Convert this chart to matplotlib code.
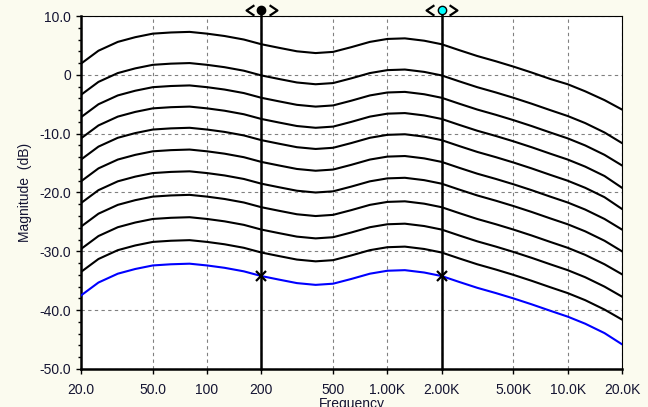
import matplotlib
matplotlib.use("Agg")
import matplotlib.pyplot as plt
from matplotlib.path import Path
from matplotlib.transforms import blended_transform_factory, offset_copy

plt.rcParams['font.family'] = ['Liberation Sans', 'DejaVu Sans']

# ---- data ----
freq = [20, 25, 32, 40, 50, 63, 80, 100, 125, 160, 200, 250, 315, 400, 500, 630,
        800, 1000, 1250, 1600, 2000, 2500, 3150, 4000, 5000, 6300, 8000, 10000,
        12500, 16000, 20000]

c1 = [1.9, 4.1, 5.6, 6.4, 7.0, 7.2, 7.3, 7.0, 6.6, 6.0, 5.2, 4.6, 4.0, 3.7, 3.9, 4.7,
      5.6, 6.1, 6.2, 5.8, 5.2, 4.2, 3.2, 2.3, 1.4, 0.4, -0.7, -1.6, -2.8, -4.3, -5.9]
c2 = [-3.4, -1.2, 0.3, 1.1, 1.7, 1.9, 2.0, 1.7, 1.3, 0.7, -0.1, -0.7, -1.3, -1.6, -1.4, -0.6,
      0.3, 0.8, 0.9, 0.5, -0.1, -1.1, -2.1, -3.0, -3.9, -4.9, -6.0, -7.0, -8.2, -9.8, -11.6]
c3 = [-7.2, -5.0, -3.5, -2.7, -2.1, -1.9, -1.8, -2.1, -2.5, -3.1, -3.9, -4.5, -5.1, -5.4, -5.2, -4.4,
      -3.5, -3.0, -2.9, -3.3, -3.9, -4.9, -5.9, -6.8, -7.7, -8.7, -9.8, -10.8, -12.0, -13.6, -15.4]
c4 = [-10.8, -8.6, -7.1, -6.3, -5.7, -5.5, -5.4, -5.7, -6.1, -6.7, -7.5, -8.1, -8.7, -9.0, -8.8, -8.0,
      -7.1, -6.6, -6.5, -6.9, -7.5, -8.5, -9.5, -10.4, -11.3, -12.3, -13.4, -14.4, -15.6, -17.2, -19.2]
c5 = [-14.4, -12.2, -10.7, -9.9, -9.3, -9.1, -9.0, -9.3, -9.7, -10.3, -11.1, -11.7, -12.3, -12.6, -12.4, -11.6,
      -10.7, -10.2, -10.1, -10.5, -11.1, -12.1, -13.1, -14.0, -14.9, -15.9, -17.0, -18.0, -19.2, -20.8, -22.8]
c6 = [-18.1, -15.9, -14.4, -13.6, -13.0, -12.8, -12.7, -13.0, -13.4, -14.0, -14.8, -15.4, -16.0, -16.3, -16.1, -15.3,
      -14.4, -13.9, -13.8, -14.2, -14.8, -15.8, -16.8, -17.7, -18.6, -19.6, -20.7, -21.7, -22.9, -24.5, -26.3]
c7 = [-21.8, -19.6, -18.1, -17.3, -16.7, -16.5, -16.4, -16.7, -17.1, -17.7, -18.5, -19.1, -19.7, -20.0, -19.8, -19.0,
      -18.1, -17.6, -17.5, -17.9, -18.5, -19.5, -20.5, -21.4, -22.3, -23.3, -24.4, -25.4, -26.6, -28.2, -30.0]
c8 = [-25.8, -23.6, -22.1, -21.3, -20.7, -20.5, -20.4, -20.7, -21.1, -21.7, -22.5, -23.1, -23.7, -24.0, -23.8, -23.0,
      -22.1, -21.6, -21.5, -21.9, -22.5, -23.5, -24.5, -25.4, -26.3, -27.3, -28.4, -29.4, -30.6, -32.2, -33.9]
c9 = [-29.6, -27.4, -25.9, -25.1, -24.5, -24.3, -24.2, -24.5, -24.9, -25.5, -26.3, -26.9, -27.5, -27.8, -27.6, -26.8,
      -25.9, -25.4, -25.3, -25.7, -26.3, -27.3, -28.3, -29.2, -30.1, -31.1, -32.2, -33.2, -34.4, -36.0, -37.7]
c10 = [-33.5, -31.3, -29.8, -29.0, -28.4, -28.2, -28.1, -28.4, -28.8, -29.4, -30.2, -30.8, -31.4, -31.7, -31.5, -30.7,
       -29.8, -29.3, -29.2, -29.6, -30.2, -31.2, -32.2, -33.1, -34.0, -35.0, -36.1, -37.1, -38.3, -39.9, -41.6]
blue = [-37.5, -35.3, -33.8, -33.0, -32.4, -32.2, -32.1, -32.4, -32.8, -33.4, -34.2, -34.8, -35.4, -35.7, -35.5, -34.7,
        -33.8, -33.3, -33.2, -33.6, -34.2, -35.2, -36.2, -37.1, -38.0, -39.0, -40.1, -41.1, -42.3, -43.9, -45.8]

black_curves = [c1, c2, c3, c4, c5, c6, c7, c8, c9, c10]

cursor_freqs = [200, 2000]
cursor_vals = [-34.2, -34.2]
cursor_colors = ['black', '#00FFFF']

xticks = [20, 50, 100, 200, 500, 1000, 2000, 5000, 10000, 20000]
xticklabels = ['20.0', '50.0', '100', '200', '500', '1.00K', '2.00K', '5.00K', '10.0K', '20.0K']
yticks = [10, 0, -10, -20, -30, -40, -50]
yticklabels = ['10.0', '0', '-10.0', '-20.0', '-30.0', '-40.0', '-50.0']
yminor = [8, 6, 4, 2, -2, -4, -6, -8, -12, -14, -16, -18, -22, -24, -26, -28,
          -32, -34, -36, -38, -42, -44, -46, -48]

# ---- figure ----
bg = '#FBFBEF'
text_color = '#141432'
fig = plt.figure(figsize=(6.48, 4.07), dpi=100, facecolor=bg)
ax = fig.add_axes([81 / 648, 1 - 369 / 407, 541 / 648, 353 / 407])
ax.set_facecolor('white')
ax.set_xscale('log')
ax.set_xlim(20, 20000)
ax.set_ylim(-50, 10)

ax.set_xticks(xticks)
ax.set_xticklabels(xticklabels)
ax.xaxis.set_minor_locator(matplotlib.ticker.NullLocator())
ax.set_yticks(yticks)
ax.set_yticklabels(yticklabels)
ax.set_yticks(yminor, minor=True)

ax.tick_params(axis='both', which='major', labelsize=10, colors='black',
               labelcolor=text_color, width=1, length=3.5)
ax.tick_params(axis='x', which='major', pad=6.5)
ax.tick_params(axis='y', which='major', pad=3.5)
ax.tick_params(axis='y', which='minor', length=2.5, width=1, colors='black')

ax.grid(True, which='major', color='#808080', linestyle=(0, (3, 3)), linewidth=0.8)
ax.set_axisbelow(True)

for s in ['left', 'bottom']:
    ax.spines[s].set_linewidth(1.8)
for s in ['top', 'right']:
    ax.spines[s].set_linewidth(0.8)

for c in black_curves:
    ax.plot(freq, c, color='black', linewidth=1.5, solid_joinstyle='round', zorder=3)
ax.plot(freq, blue, color='#0000FF', linewidth=1.5, solid_joinstyle='round', zorder=3)

# cursors
trans = blended_transform_factory(ax.transData, ax.transAxes)
chev_left = Path([(0.75, 1), (-0.75, 0), (0.75, -1)], [Path.MOVETO, Path.LINETO, Path.LINETO])
chev_right = Path([(-0.75, 1), (0.75, 0), (-0.75, -1)], [Path.MOVETO, Path.LINETO, Path.LINETO])
top_y = 1.017
for f, col in zip(cursor_freqs, cursor_colors):
    ax.plot([f, f], [0, top_y], transform=trans, color='black', linewidth=1.8,
            clip_on=False, zorder=5)
    ax.plot([f], [top_y], transform=trans, marker='o', markersize=6,
            markerfacecolor=col, markeredgecolor='black', markeredgewidth=1,
            clip_on=False, zorder=6)
    tl = offset_copy(trans, fig=fig, x=-11.5, y=0, units='dots')
    tr = offset_copy(trans, fig=fig, x=11.5, y=0, units='dots')
    ax.plot([f], [top_y], transform=tl, marker=chev_left, markersize=7.5,
            fillstyle='none', color='black', markeredgewidth=1.6, clip_on=False, zorder=6)
    ax.plot([f], [top_y], transform=tr, marker=chev_right, markersize=7.5,
            fillstyle='none', color='black', markeredgewidth=1.6, clip_on=False, zorder=6)

ax.plot(cursor_freqs, cursor_vals, linestyle='none', marker='x', markersize=7,
        markeredgewidth=1.6, color='black', zorder=7)

ax.set_ylabel('Magnitude  (dB)', fontsize=10, color=text_color)
ax.yaxis.set_label_coords(-0.0906, 0.5)
fig.text(351.5 / 648, 10 / 407, 'Frequency', ha='center', va='top', fontsize=10,
         color=text_color)

fig.savefig('out.png', dpi=100, facecolor=bg)
